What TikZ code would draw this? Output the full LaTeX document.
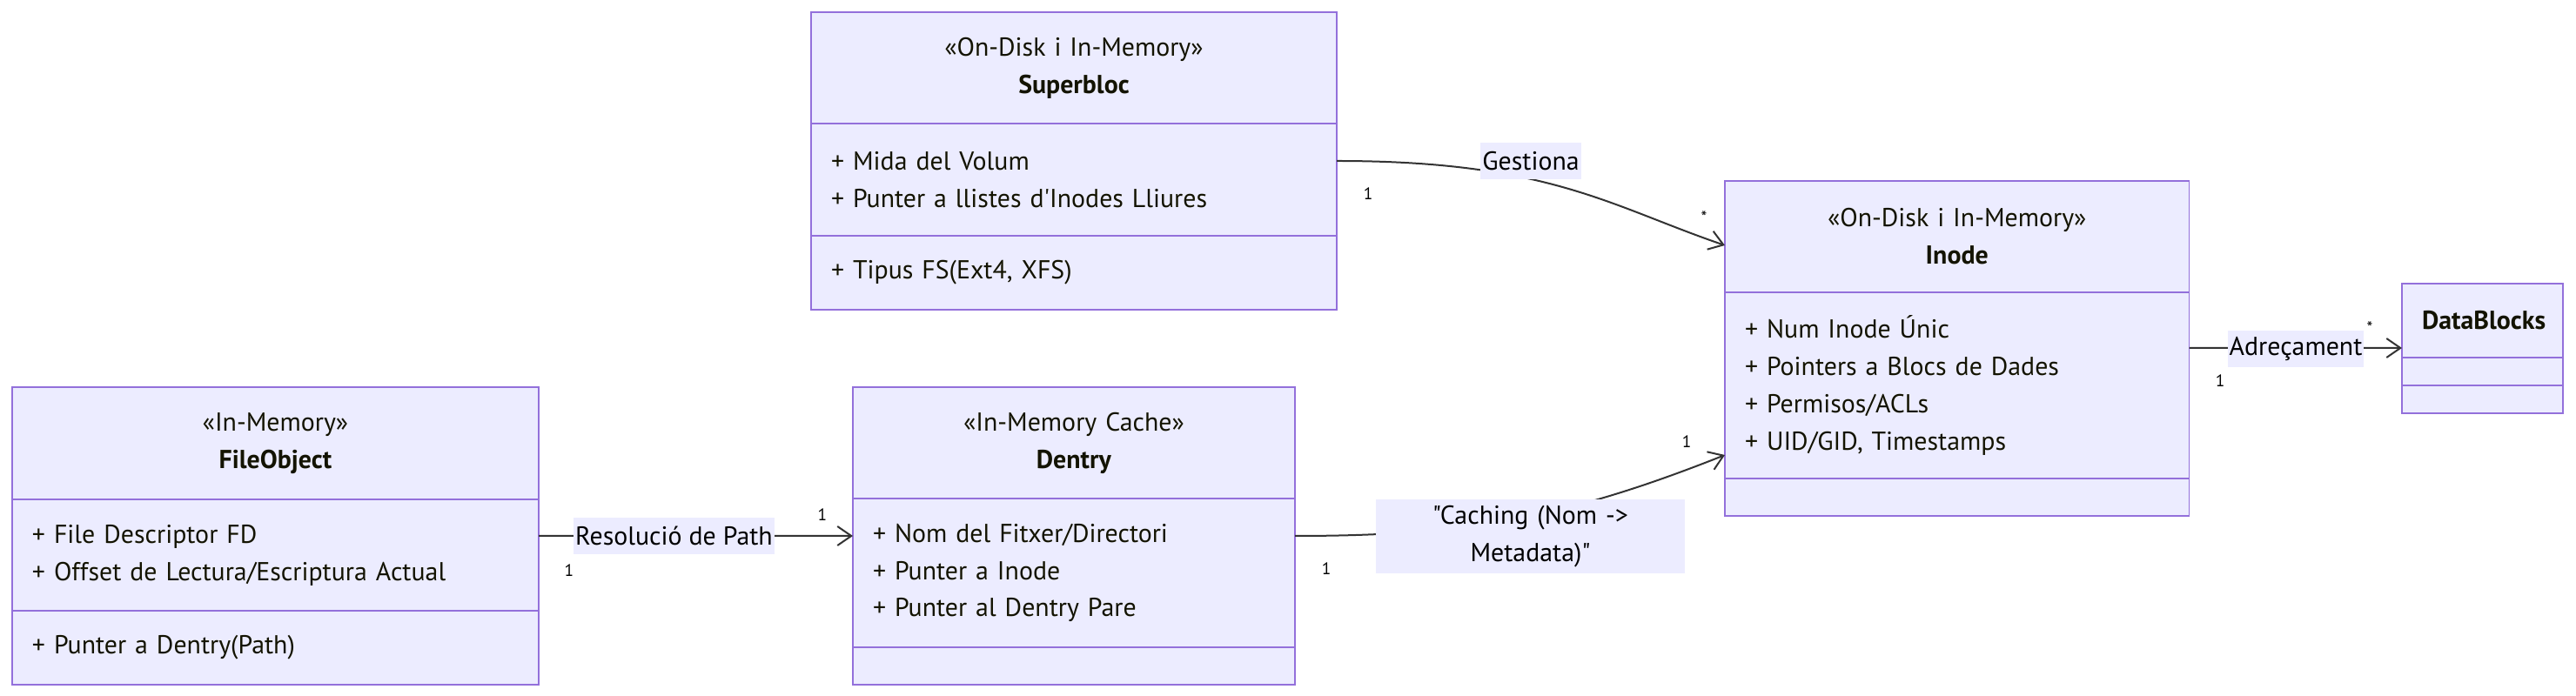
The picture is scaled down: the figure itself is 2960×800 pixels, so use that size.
\documentclass[tikz,border=0pt]{standalone}
\usepackage{fontspec}
\newfontfamily\umlfont{PT Sans}
\usetikzlibrary{positioning,arrows.meta}
\definecolor{umlfill}{HTML}{ECECFF}
\definecolor{umlline}{HTML}{9370DB}
\definecolor{umledge}{HTML}{333333}
\definecolor{umltext}{HTML}{131300}
\tikzset{
	compart/.style={draw=umlline, fill=umlfill, line width=0.18mm, outer sep=0pt, inner xsep=2.3mm, inner ysep=0pt, text=umltext, font=\umlfont\fontsize{8.5}{12.2}\selectfont},
	classhead/.style={compart, align=center},
	classbody/.style={compart, align=left},
	assoc/.style={draw=umledge, line width=0.2mm, -{Straight Barb[length=1.6mm, width=2.2mm]}},
	lbl/.style={fill=umlfill, inner xsep=0.2mm, inner ysep=0pt, minimum height=4.2mm, text=black, font=\umlfont\fontsize{8.5}{12.2}\selectfont},
	mult/.style={inner sep=0pt, text=black, font=\umlfont\fontsize{5.5}{6}\selectfont}
}

\begin{document}
\begin{tikzpicture}[x=0.1mm, y=-0.1mm]
			%%%%% START %%%%%
			\useasboundingbox (0, 0) rectangle (2960, 800);
			
			% Superbloc
			\node[classhead, text width=55.8mm, minimum height=12.8mm, anchor=north west] (sbHead) at (932, 14) {«On-Disk i In-Memory»\\\textbf{Superbloc}};
			\node[classbody, text width=55.8mm, minimum height=12.9mm, below=0pt of sbHead] (sbBody) {+ Mida del Volum\\+ Punter a llistes d'Inodes Lliures};
			\node[classbody, text width=55.8mm, minimum height=8.5mm, below=0pt of sbBody] (sbOps) {+ Tipus FS(Ext4, XFS)};
			
			% Inode
			\node[classhead, text width=48.75mm, minimum height=12.8mm, anchor=north west] (inHead) at (1982, 208) {«On-Disk i In-Memory»\\\textbf{Inode}};
			\node[classbody, text width=48.75mm, minimum height=21.4mm, below=0pt of inHead] (inBody) {+ Num Inode Únic\\+ Pointers a Blocs de Dades\\+ Permisos/ACLs\\+ UID/GID, Timestamps};
			\node[classbody, text width=48.75mm, minimum height=4.3mm, below=0pt of inBody] (inOps) {};
			
			% FileObject
			\node[classhead, text width=55.9mm, minimum height=12.9mm, anchor=north west] (foHead) at (14, 445) {«In-Memory»\\\textbf{FileObject}};
			\node[classbody, text width=55.9mm, minimum height=12.8mm, below=0pt of foHead] (foBody) {+ File Descriptor FD\\+ Offset de Lectura/Escriptura Actual};
			\node[classbody, text width=55.9mm, minimum height=8.5mm, below=0pt of foBody] (foOps) {+ Punter a Dentry(Path)};
			
			% Dentry
			\node[classhead, text width=46.2mm, minimum height=12.8mm, anchor=north west] (dnHead) at (980, 445) {«In-Memory Cache»\\\textbf{Dentry}};
			\node[classbody, text width=46.2mm, minimum height=17.1mm, below=0pt of dnHead] (dnBody) {+ Nom del Fitxer/Directori\\+ Punter a Inode\\+ Punter al Dentry Pare};
			\node[classbody, text width=46.2mm, minimum height=4.3mm, below=0pt of dnBody] (dnOps) {};
			
			% DataBlocks
			\node[classhead, text width=13.9mm, minimum height=8.5mm, anchor=north west] (dbHead) at (2760, 326) {\textbf{DataBlocks}};
			\node[classbody, text width=13.9mm, minimum height=3.2mm, below=0pt of dbHead] (dbBody) {};
			\node[classbody, text width=13.9mm, minimum height=3.2mm, below=0pt of dbBody] (dbOps) {};
			
			% ends of the links
			\coordinate (sbOut) at ([yshift=-4.3mm]sbBody.north east);
			\coordinate (inIn1) at ([yshift=-7.4mm]inHead.north west);
			\coordinate (inIn2) at ([yshift=2.7mm]inBody.south west);
			\coordinate (inOut) at ([yshift=-6.4mm]inBody.north east);
			\coordinate (foOut) at ([yshift=-4.2mm]foBody.north east);
			\coordinate (dnIn) at ([yshift=-4.3mm]dnBody.north west);
			\coordinate (dnOut) at ([yshift=-4.3mm]dnBody.north east);
			\coordinate (dbIn) at ([yshift=-7.4mm]dbHead.north west);
			
			\draw[assoc] (sbOut) .. controls (1780, 185) and (1850, 237) .. (inIn1);
			\draw[assoc] (foOut) -- (dnIn);
			\draw[assoc] (dnOut) .. controls (1684, 616) and (1798, 596) .. (inIn2);
			\draw[assoc] (inOut) -- (dbIn);
			
			\node[lbl] (lGest) at (1759, 185) {Gestiona};
			\node[lbl] (lRes) at (774.5, 616) {Resolució de Path};
			\node[lbl, text width=35.1mm, align=center, minimum height=8.5mm] (lCache) at (1758.5, 616.5) {"Caching (Nom ->\\Metadata)"};
			\node[lbl] (lAdr) at (2638, 401) {Adreçament};
			
			\node[mult] (mGestA) at (1572, 223) {1};
			\node[mult] (mGestB) at (1958, 250) {*};
			\node[mult] (mResA) at (654, 656) {1};
			\node[mult] (mResB) at (945, 592) {1};
			\node[mult] (mCacheA) at (1524, 654) {1};
			\node[mult] (mCacheB) at (1938, 508) {1};
			\node[mult] (mAdrA) at (2551, 438) {1};
			\node[mult] (mAdrB) at (2723, 377) {*};
			%%%%% END %%%%%
\end{tikzpicture}
\end{document}
